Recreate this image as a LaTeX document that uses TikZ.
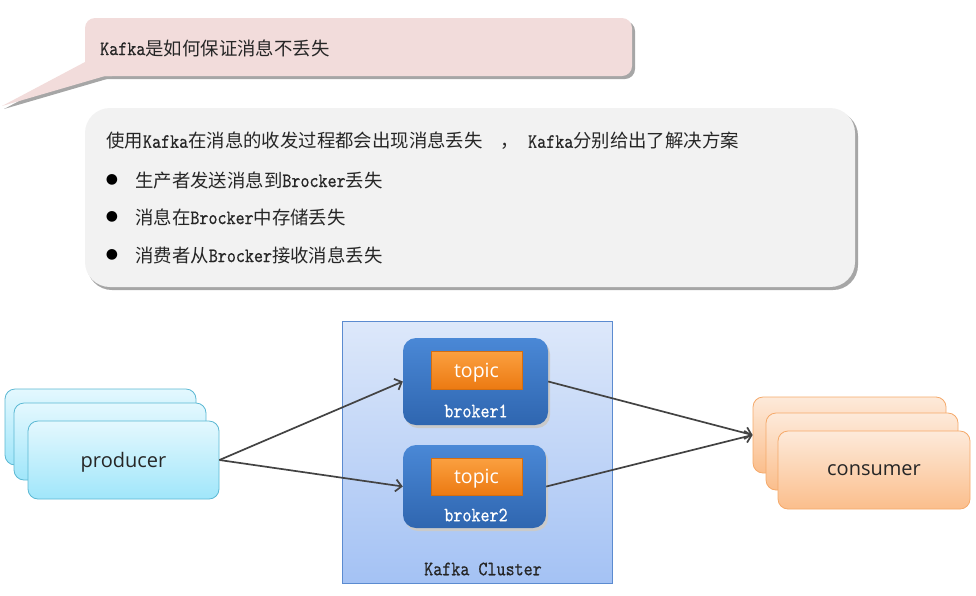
\documentclass[tikz,border=0pt]{standalone}
\usepackage{fontspec}
\setmainfont{Noto Sans CJK SC}
\setmonofont{lmmono10-regular.otf}[FakeStretch=0.84,FakeBold=0.5]
\newfontfamily\osans{Open Sans}
\newfontfamily\dejav{DejaVu Sans}
\usetikzlibrary{arrows.meta}
\definecolor{pinkfill}{HTML}{F2DCDB}
\definecolor{grayfill}{HTML}{F2F2F2}
\definecolor{shadowc}{HTML}{A6A6A6}
\definecolor{clustertop}{HTML}{DDE8FA}
\definecolor{clusterbot}{HTML}{A4C2F4}
\definecolor{clusterline}{HTML}{5B8BD0}
\definecolor{brokertop}{HTML}{4A88D6}
\definecolor{brokerbot}{HTML}{2F66B0}
\definecolor{topictop}{HTML}{FBA040}
\definecolor{topicbot}{HTML}{EC7A12}
\definecolor{prodtop}{HTML}{E4F8FE}
\definecolor{prodbot}{HTML}{A0E6FA}
\definecolor{prodline}{HTML}{5BB8D3}
\definecolor{constop}{HTML}{FDEADA}
\definecolor{consbot}{HTML}{FBBE8C}
\definecolor{consline}{HTML}{F5A96A}
\definecolor{arrowc}{HTML}{434343}
\definecolor{txt}{HTML}{262626}
\newcommand\latfont{\ttfamily\fontsize{20.5}{22}\selectfont}
\newcommand\lat[1]{{\latfont #1}}
\newcommand\cjktext{\fontsize{18.4}{22}\selectfont}
\begin{document}
\begin{tikzpicture}[x=1pt,y=-1pt,
  cjkline/.style={anchor=west,inner sep=0pt,text=txt,font=\cjktext},
  bulletmark/.style={inner sep=0pt,text=black,font=\dejav\fontsize{14}{15}\selectfont},
  stackprod/.style={draw=prodline,line width=0.8pt,rounded corners=10pt,top color=prodtop,bottom color=prodbot},
  stackcons/.style={draw=consline,line width=0.8pt,rounded corners=10pt,top color=constop,bottom color=consbot},
  brokerbox/.style={rounded corners=13pt,top color=brokertop,bottom color=brokerbot,inner sep=0pt},
  topicbox/.style={top color=topictop,bottom color=topicbot,draw=topicbot!90!black,line width=0.4pt,inner sep=0pt,
     minimum width=91pt,text depth=0pt,text=white,font=\osans\fontsize{19.5}{22}\selectfont},
  brokerlabel/.style={inner sep=0pt,text=white,font=\latfont},
  bigsans/.style={text=txt,text depth=0pt,font=\osans\fontsize{20}{24}\selectfont},
  arr/.style={draw=arrowc,line width=1.7pt,-{Straight Barb[length=6pt,width=12pt,line width=1.7pt]}},
]
\useasboundingbox (0,0) rectangle (976,595);

% ---------- callout shadows ----------
\fill[shadowc] (4,109) -- (87,65) -- (87,79) -- (107,79) -- cycle;
\fill[shadowc,rounded corners=10pt] (87,21) rectangle (635,79);
\fill[shadowc,rounded corners=25pt] (87,111) rectangle (858,290);
% ---------- callout ----------
\fill[pinkfill] (2,106) -- (85,62) -- (112,62) -- (112,76) -- (105,76) -- cycle;
\fill[pinkfill,rounded corners=10pt] (85,18) rectangle (632,76);
\node[cjkline] (title) at (100,48) {\lat{Kafka}是如何保证消息不丢失};

% ---------- gray box ----------
\fill[grayfill,rounded corners=25pt] (85,108) rectangle (855,287);
\node[cjkline] (l0) at (106,141) {使用\lat{Kafka}在消息的收发过程都会出现消息丢失\lat{\ \ }，\lat{ Kafka}分别给出了解决方案};
\node[bulletmark] (b0) at (112,180) {●};
\node[cjkline] (l1) at (135,180) {生产者发送消息到\lat{Brocker}丢失};
\node[bulletmark] (bb1) at (112,217) {●};
\node[cjkline] (l2) at (135,217) {消息在\lat{Brocker}中存储丢失};
\node[bulletmark] (bb2) at (112,255) {●};
\node[cjkline] (l3) at (135,255) {消费者从\lat{Brocker}接收消息丢失};

% ---------- cluster ----------
\node[draw=clusterline,line width=0.6pt,top color=clustertop,bottom color=clusterbot,
      minimum width=270pt,minimum height=262pt,inner sep=0pt] (cluster) at (477,452) {};
\node[inner sep=0pt,text=txt,font=\latfont] (clabel) at (483,569) {Kafka Cluster};

% broker shadows
\fill[shadowc!60,rounded corners=13pt] (405,341) rectangle (550,428);
\fill[shadowc!60,rounded corners=13pt] (405,448) rectangle (548,531);
\node[brokerbox,minimum width=145pt,minimum height=87pt] (br1) at (475.5,381.5) {};
\node[brokerbox,minimum width=143pt,minimum height=83pt] (br2) at (474.5,486.5) {};
\node[topicbox,minimum height=38pt] (t1) at (476.5,370) {topic};
\node[topicbox,minimum height=37pt] (t2) at (476.5,476.5) {topic};
\node[brokerlabel] (bl1) at (476,411) {broker1};
\node[brokerlabel] (bl2) at (476,515) {broker2};

% ---------- producer stack ----------
\node[stackprod,minimum width=191pt,minimum height=76pt] (p1) at (100.5,427) {};
\node[stackprod,minimum width=192pt,minimum height=77pt] (p2) at (110,441.5) {};
\node[stackprod,minimum width=191pt,minimum height=78pt,bigsans] (p3) at (123.5,460) {producer};

% ---------- consumer stack ----------
\node[stackcons,minimum width=193pt,minimum height=76pt] (c1) at (849.5,435) {};
\node[stackcons,minimum width=192pt,minimum height=77pt] (c2) at (862,451.5) {};
\node[stackcons,minimum width=192pt,minimum height=78pt,bigsans] (c3) at (874,470) {consumer};

% ---------- arrows ----------
\draw[arr] (p3.east) -- (br1.west);
\draw[arr] (p3.east) -- (br2.west);
\draw[arr] (br1.east) -- (c1.west);
\draw[arr] (br2.east) -- (c1.west);
\end{tikzpicture}
\end{document}
